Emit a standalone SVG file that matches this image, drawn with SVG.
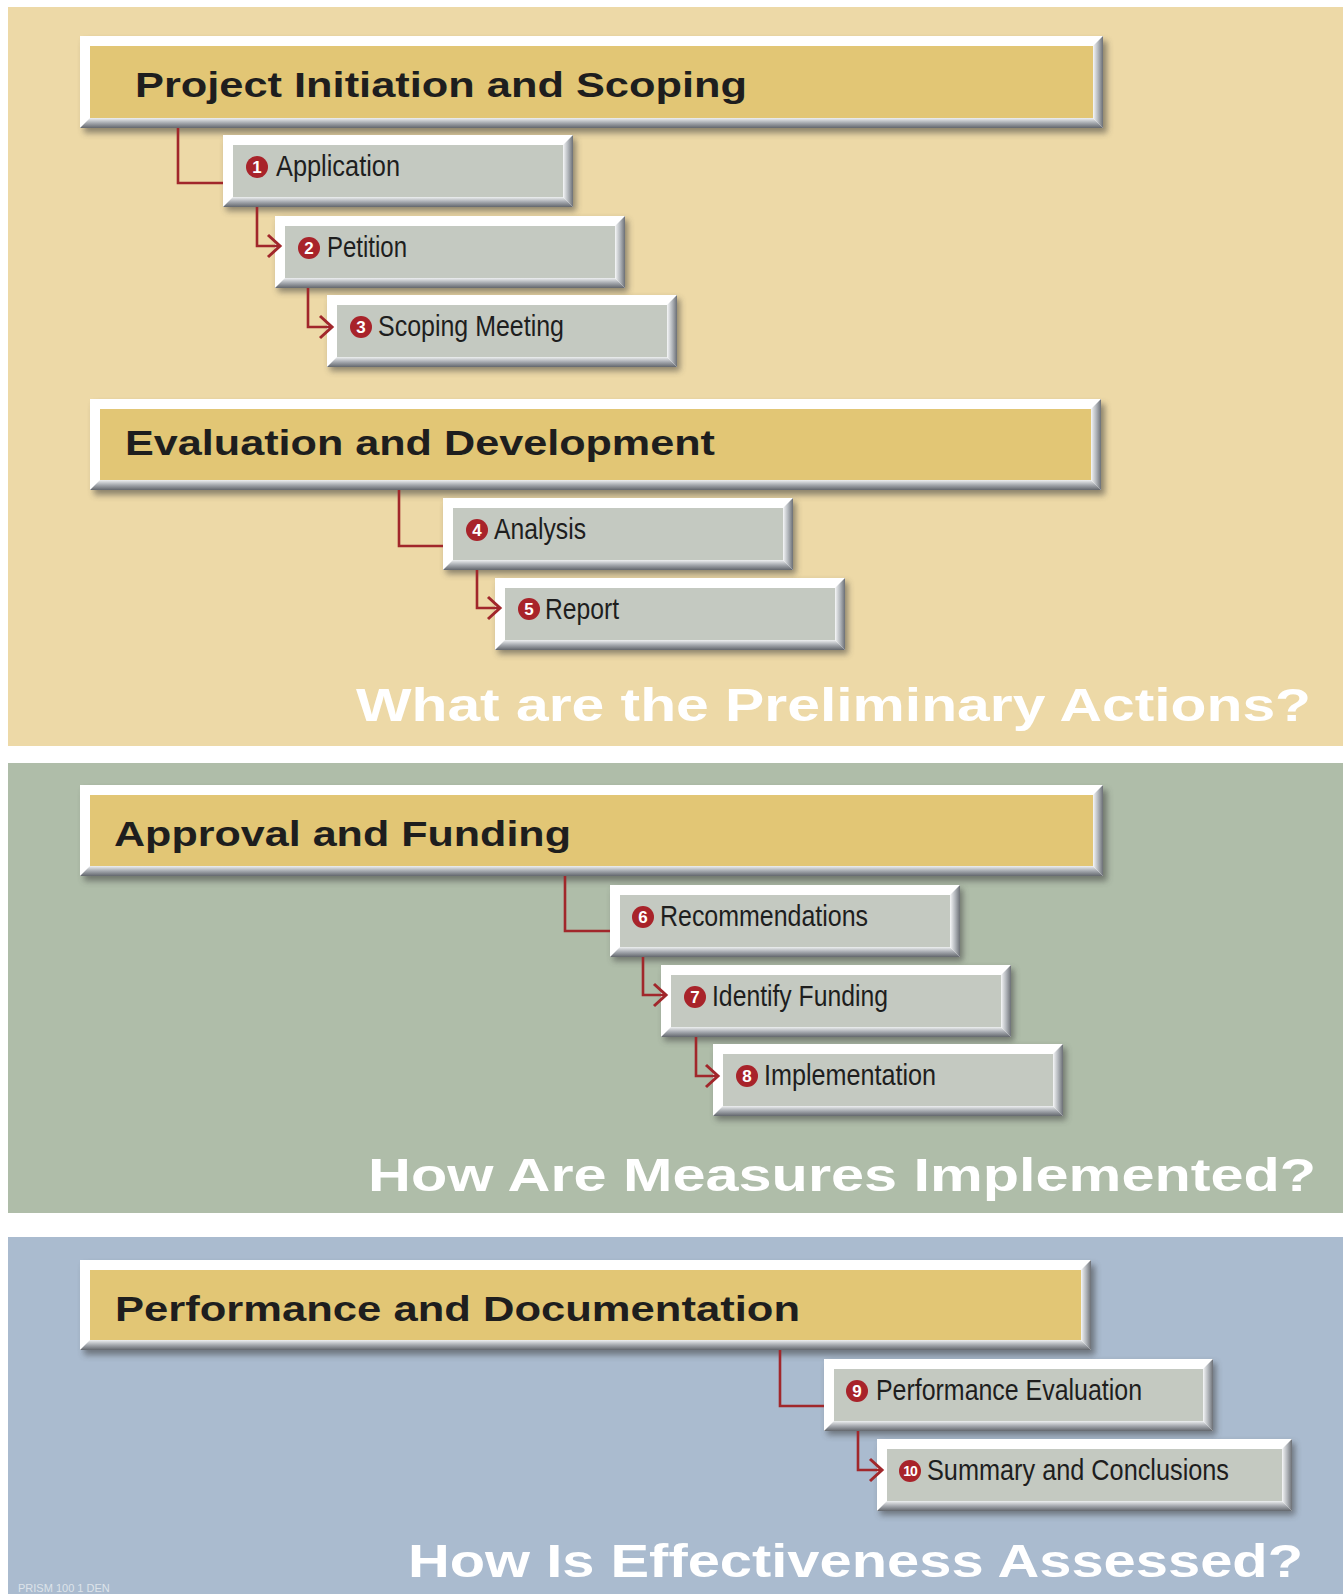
<svg xmlns="http://www.w3.org/2000/svg" width="1343" height="1594" viewBox="0 0 1343 1594">
<defs>
<style>
.frame{fill:#ffffff}
.bb{fill:url(#gB)}
.br{fill:url(#gR)}
.gold{fill:#E2C675}
.grey{fill:#C4C9C1}
.shd{fill:#3c3c3c;opacity:.55;filter:url(#blur)}
.hdr{font-family:"Liberation Sans",Arial,sans-serif;font-weight:bold;font-size:35px;fill:#1e1e1e}
.lbl{font-family:"Liberation Sans",Arial,sans-serif;font-size:30px;fill:#1e1e1e}
.q{font-family:"Liberation Sans",Arial,sans-serif;font-weight:bold;font-size:47px;fill:#ffffff}
.conn{fill:none;stroke:#A1272B;stroke-width:2.6}
.nc{fill:#A8232A}
.nt{font-family:"Liberation Sans",Arial,sans-serif;font-weight:bold;font-size:17px;fill:#ffffff;text-anchor:middle}
.foot{font-family:"Liberation Sans",Arial,sans-serif;font-size:11px;fill:#dde3ea}
</style>
<linearGradient id="gB" x1="0" y1="0" x2="0" y2="1">
<stop offset="0" stop-color="#eef0f1"/>
<stop offset="0.5" stop-color="#a4a8ae"/>
<stop offset="1" stop-color="#63676d"/>
</linearGradient>
<linearGradient id="gR" x1="0" y1="0" x2="1" y2="0">
<stop offset="0" stop-color="#f6f7f8"/>
<stop offset="0.5" stop-color="#b4b8bd"/>
<stop offset="1" stop-color="#6c7076"/>
</linearGradient>
<filter id="blur" x="-10%" y="-30%" width="120%" height="160%">
<feGaussianBlur stdDeviation="3"/>
</filter>
<marker id="arr" viewBox="0 0 18 28" refX="16" refY="14" markerWidth="18" markerHeight="28" markerUnits="userSpaceOnUse" orient="auto" overflow="visible">
<path d="M4,3 L16,14 L4,25" fill="none" stroke="#A1272B" stroke-width="3"/>
</marker>
</defs>

<rect x="0" y="0" width="1343" height="1594" fill="#ffffff"/>
<g id="panels">
<rect x="8" y="7" width="1335" height="739" fill="#EDD9A7"/>
<rect x="8" y="763" width="1335" height="450" fill="#AFBDA9"/>
<rect x="8" y="1237" width="1335" height="357" fill="#AABBCF"/>
</g>

<g id="h1">
<rect class="shd" x="84" y="41" width="1023" height="92"/>
<rect class="frame" x="80" y="36" width="1023" height="92"/>
<polygon class="bb" points="80,128 1103,128 1093,118 90,118"/>
<polygon class="br" points="1103,36 1103,128 1093,118 1093,46"/>
<rect class="gold" x="90" y="46" width="1003" height="72"/>
<text class="hdr" x="135" y="97" textLength="612" lengthAdjust="spacingAndGlyphs">Project Initiation and Scoping</text>
</g>

<g id="n1">
<rect class="shd" x="226" y="139" width="350" height="72"/>
<rect class="frame" x="223" y="135" width="350" height="72"/>
<polygon class="bb" points="223,207 573,207 563,197 233,197"/>
<polygon class="br" points="573,135 573,207 563,197 563,145"/>
<rect class="grey" x="233" y="145" width="330" height="52"/>
<circle class="nc" cx="257" cy="167" r="11"/><text class="nt" x="257" y="173">1</text>
<text class="lbl" x="276" y="176" textLength="124" lengthAdjust="spacingAndGlyphs">Application</text>
</g>

<g id="n2">
<rect class="shd" x="278" y="220" width="350" height="72"/>
<rect class="frame" x="275" y="216" width="350" height="72"/>
<polygon class="bb" points="275,288 625,288 615,278 285,278"/>
<polygon class="br" points="625,216 625,288 615,278 615,226"/>
<rect class="grey" x="285" y="226" width="330" height="52"/>
<circle class="nc" cx="309" cy="248" r="11"/><text class="nt" x="309" y="254">2</text>
<text class="lbl" x="327" y="257" textLength="80" lengthAdjust="spacingAndGlyphs">Petition</text>
</g>

<g id="n3">
<rect class="shd" x="330" y="299" width="350" height="72"/>
<rect class="frame" x="327" y="295" width="350" height="72"/>
<polygon class="bb" points="327,367 677,367 667,357 337,357"/>
<polygon class="br" points="677,295 677,367 667,357 667,305"/>
<rect class="grey" x="337" y="305" width="330" height="52"/>
<circle class="nc" cx="361" cy="327" r="11"/><text class="nt" x="361" y="333">3</text>
<text class="lbl" x="378" y="336" textLength="186" lengthAdjust="spacingAndGlyphs">Scoping Meeting</text>
</g>

<g id="h2">
<rect class="shd" x="94" y="404" width="1011" height="91"/>
<rect class="frame" x="90" y="399" width="1011" height="91"/>
<polygon class="bb" points="90,490 1101,490 1091,480 100,480"/>
<polygon class="br" points="1101,399 1101,490 1091,480 1091,409"/>
<rect class="gold" x="100" y="409" width="991" height="71"/>
<text class="hdr" x="125" y="455" textLength="590" lengthAdjust="spacingAndGlyphs">Evaluation and Development</text>
</g>

<g id="n4">
<rect class="shd" x="446" y="502" width="350" height="72"/>
<rect class="frame" x="443" y="498" width="350" height="72"/>
<polygon class="bb" points="443,570 793,570 783,560 453,560"/>
<polygon class="br" points="793,498 793,570 783,560 783,508"/>
<rect class="grey" x="453" y="508" width="330" height="52"/>
<circle class="nc" cx="477" cy="530" r="11"/><text class="nt" x="477" y="536">4</text>
<text class="lbl" x="494" y="539" textLength="92" lengthAdjust="spacingAndGlyphs">Analysis</text>
</g>

<g id="n5">
<rect class="shd" x="498" y="582" width="350" height="72"/>
<rect class="frame" x="495" y="578" width="350" height="72"/>
<polygon class="bb" points="495,650 845,650 835,640 505,640"/>
<polygon class="br" points="845,578 845,650 835,640 835,588"/>
<rect class="grey" x="505" y="588" width="330" height="52"/>
<circle class="nc" cx="529" cy="609" r="11"/><text class="nt" x="529" y="615">5</text>
<text class="lbl" x="545" y="619" textLength="74" lengthAdjust="spacingAndGlyphs">Report</text>
</g>

<text class="q" x="356" y="721" textLength="955" lengthAdjust="spacingAndGlyphs">What are the Preliminary Actions?</text>

<g id="h3">
<rect class="shd" x="84" y="790" width="1023" height="91"/>
<rect class="frame" x="80" y="785" width="1023" height="91"/>
<polygon class="bb" points="80,876 1103,876 1093,866 90,866"/>
<polygon class="br" points="1103,785 1103,876 1093,866 1093,795"/>
<rect class="gold" x="90" y="795" width="1003" height="71"/>
<text class="hdr" x="114" y="846" textLength="457" lengthAdjust="spacingAndGlyphs">Approval and Funding</text>
</g>

<g id="n6">
<rect class="shd" x="613" y="889" width="350" height="72"/>
<rect class="frame" x="610" y="885" width="350" height="72"/>
<polygon class="bb" points="610,957 960,957 950,947 620,947"/>
<polygon class="br" points="960,885 960,957 950,947 950,895"/>
<rect class="grey" x="620" y="895" width="330" height="52"/>
<circle class="nc" cx="643" cy="917" r="11"/><text class="nt" x="643" y="923">6</text>
<text class="lbl" x="660" y="926" textLength="208" lengthAdjust="spacingAndGlyphs">Recommendations</text>
</g>

<g id="n7">
<rect class="shd" x="664" y="969" width="350" height="72"/>
<rect class="frame" x="661" y="965" width="350" height="72"/>
<polygon class="bb" points="661,1037 1011,1037 1001,1027 671,1027"/>
<polygon class="br" points="1011,965 1011,1037 1001,1027 1001,975"/>
<rect class="grey" x="671" y="975" width="330" height="52"/>
<circle class="nc" cx="695" cy="997" r="11"/><text class="nt" x="695" y="1003">7</text>
<text class="lbl" x="712" y="1006" textLength="176" lengthAdjust="spacingAndGlyphs">Identify Funding</text>
</g>

<g id="n8">
<rect class="shd" x="716" y="1048" width="350" height="72"/>
<rect class="frame" x="713" y="1044" width="350" height="72"/>
<polygon class="bb" points="713,1116 1063,1116 1053,1106 723,1106"/>
<polygon class="br" points="1063,1044 1063,1116 1053,1106 1053,1054"/>
<rect class="grey" x="723" y="1054" width="330" height="52"/>
<circle class="nc" cx="747" cy="1076" r="11"/><text class="nt" x="747" y="1082">8</text>
<text class="lbl" x="764" y="1085" textLength="172" lengthAdjust="spacingAndGlyphs">Implementation</text>
</g>

<text class="q" x="368" y="1191" textLength="948" lengthAdjust="spacingAndGlyphs">How Are Measures Implemented?</text>

<g id="h4">
<rect class="shd" x="84" y="1265" width="1011" height="90"/>
<rect class="frame" x="80" y="1260" width="1011" height="90"/>
<polygon class="bb" points="80,1350 1091,1350 1081,1340 90,1340"/>
<polygon class="br" points="1091,1260 1091,1350 1081,1340 1081,1270"/>
<rect class="gold" x="90" y="1270" width="991" height="70"/>
<text class="hdr" x="115" y="1321" textLength="685" lengthAdjust="spacingAndGlyphs">Performance and Documentation</text>
</g>

<g id="n9">
<rect class="shd" x="827" y="1363" width="389" height="72"/>
<rect class="frame" x="824" y="1359" width="389" height="72"/>
<polygon class="bb" points="824,1431 1213,1431 1203,1421 834,1421"/>
<polygon class="br" points="1213,1359 1213,1431 1203,1421 1203,1369"/>
<rect class="grey" x="834" y="1369" width="369" height="52"/>
<circle class="nc" cx="857" cy="1391" r="11"/><text class="nt" x="857" y="1397">9</text>
<text class="lbl" x="876" y="1400" textLength="266" lengthAdjust="spacingAndGlyphs">Performance Evaluation</text>
</g>

<g id="n10">
<rect class="shd" x="880" y="1443" width="415" height="72"/>
<rect class="frame" x="877" y="1439" width="415" height="72"/>
<polygon class="bb" points="877,1511 1292,1511 1282,1501 887,1501"/>
<polygon class="br" points="1292,1439 1292,1511 1282,1501 1282,1449"/>
<rect class="grey" x="887" y="1449" width="395" height="52"/>
<circle class="nc" cx="910" cy="1471" r="11"/><text class="nt" x="910" y="1476" style="font-size:14px;letter-spacing:-1px">10</text>
<text class="lbl" x="927" y="1480" textLength="302" lengthAdjust="spacingAndGlyphs">Summary and Conclusions</text>
</g>

<g id="connectors">
<path class="conn" d="M178,128 V183 H223"/>
<path class="conn" d="M257,207 V246 H280" marker-end="url(#arr)"/>
<path class="conn" d="M308,288 V327 H332" marker-end="url(#arr)"/>
<path class="conn" d="M399,490 V546 H443"/>
<path class="conn" d="M477,570 V608 H500" marker-end="url(#arr)"/>
<path class="conn" d="M565,876 V931 H610"/>
<path class="conn" d="M643,957 V995 H666" marker-end="url(#arr)"/>
<path class="conn" d="M696,1037 V1076 H718" marker-end="url(#arr)"/>
<path class="conn" d="M780,1350 V1406 H824"/>
<path class="conn" d="M858,1431 V1470 H882" marker-end="url(#arr)"/>
</g>

<text class="q" x="408" y="1577" textLength="895" lengthAdjust="spacingAndGlyphs">How Is Effectiveness Assessed?</text>
<text class="foot" x="18" y="1592">PRISM 100 1 DEN</text>
</svg>
